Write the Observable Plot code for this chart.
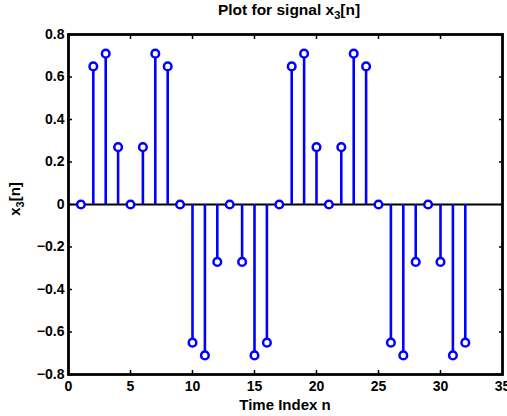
<!DOCTYPE html>
<html>
<head>
<meta charset="utf-8">
<script src="https://cdn.jsdelivr.net/npm/d3@7"></script>
<script src="https://cdn.jsdelivr.net/npm/@observablehq/plot@0.6"></script>
<style>
  html, body { margin: 0; padding: 0; background: #fff; }
  #chart svg { display: block; }
</style>
</head>
<body>
<div id="chart"></div>
<script>
const nValues = [1,2,3,4,5,6,7,8,9,10,11,12,13,14,15,16,17,18,19,20,21,22,23,24,25,26,27,28,29,30,31,32];
const xValues = [0,0.65,0.71,0.27,0,0.27,0.71,0.65,0,-0.65,-0.71,-0.27,0,-0.27,-0.71,-0.65,
                 0,0.65,0.71,0.27,0,0.27,0.71,0.65,0,-0.65,-0.71,-0.27,0,-0.27,-0.71,-0.65];
const xTicks = [0,5,10,15,20,25,30,35];
const yTicks = [-0.8,-0.6,-0.4,-0.2,0,0.2,0.4,0.6,0.8];

const data = nValues.map((n, i) => ({n, v: xValues[i]}));
const blue = "#0000ff";
const fmt = d => d === 0 ? "0" : d3.format(".1f")(d).replace("-", "\u2212");
const font = "'Liberation Sans', Arial, sans-serif";

const chart = Plot.plot({
  width: 507,
  height: 416,
  marginTop: 34,
  marginBottom: 42,
  marginLeft: 68,
  marginRight: 5,
  style: {fontFamily: font, fontSize: "14px", fontWeight: "bold", color: "black", background: "white", overflow: "visible"},
  x: {domain: [0, 35]},
  y: {domain: [-0.8, 0.8]},
  marks: [
    Plot.axisX({anchor: "bottom", ticks: xTicks, tickSize: -4, tickPadding: 11, tickFormat: d => String(d), label: null, strokeWidth: 1.5, fill: "black", fontSize: 14, fontWeight: "bold"}),
    Plot.axisX({anchor: "top", ticks: xTicks, tickSize: -4, tickFormat: () => "", label: null, strokeWidth: 1.5}),
    Plot.axisY({anchor: "left", ticks: yTicks, tickSize: -4, tickPadding: 8, tickFormat: fmt, label: null, strokeWidth: 1.5, fill: "black", fontSize: 14, fontWeight: "bold"}),
    Plot.axisY({anchor: "right", ticks: yTicks, tickSize: -4, tickFormat: () => "", label: null, strokeWidth: 1.5}),
    Plot.ruleY([0], {stroke: "black", strokeWidth: 2.2}),
    Plot.ruleX(data, {x: "n", y1: 0, y2: "v", stroke: blue, strokeWidth: 2.6}),
    Plot.dot(data, {x: "n", y: "v", r: 3.8, stroke: blue, strokeWidth: 2.5, fill: "white"}),
    Plot.frame({stroke: "black", strokeWidth: 2.8})
  ]
});

const svg = d3.select(chart);
// Title
const t = svg.append("text")
  .attr("x", 289).attr("y", 15)
  .attr("text-anchor", "middle")
  .style("font-family", font).style("font-size", "15.5px").style("font-weight", "bold");
t.append("tspan").text("Plot for signal x");
t.append("tspan").attr("dy", 4).style("font-size", "11px").text("3");
t.append("tspan").attr("dy", -4).text("[n]");
// X label
svg.append("text")
  .attr("x", 285).attr("y", 410)
  .attr("text-anchor", "middle")
  .style("font-family", font).style("font-size", "15px").style("font-weight", "bold")
  .text("Time Index n");
// Y label
const yl = svg.append("text")
  .attr("transform", "translate(20,199) rotate(-90)")
  .attr("text-anchor", "middle")
  .style("font-family", font).style("font-size", "15px").style("font-weight", "bold");
yl.append("tspan").text("x");
yl.append("tspan").attr("dy", 4).style("font-size", "11px").text("3");
yl.append("tspan").attr("dy", -4).text("[n]");

document.getElementById("chart").appendChild(chart);
</script>
</body>
</html>
